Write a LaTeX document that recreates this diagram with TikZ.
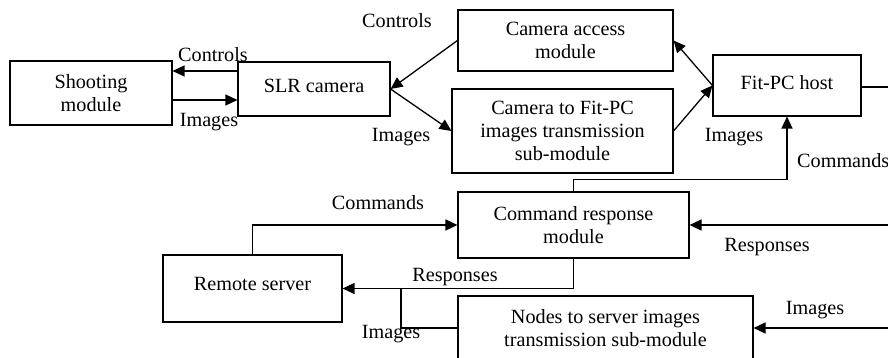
\documentclass[tikz,border=0pt]{standalone}
\usepackage{fontspec}
\setmainfont{Liberation Serif}
\usetikzlibrary{arrows.meta}
\begin{document}
\begin{tikzpicture}[x=1pt,y=-1pt,
  font=\fontsize{20.2}{23}\selectfont,
  box/.style={draw,line width=1.1pt,align=center,inner sep=0pt},
  conn/.style={line width=1.3pt},
  arr/.style={conn,-{Triangle[length=12pt,width=11pt]}},
  lbl/.style={inner sep=0pt,text height=13pt,text depth=4pt}]
\useasboundingbox (0,0) rectangle (888,358);
\clip (0,0) rectangle (888,358);
% boxes
\node[box,minimum width=162pt,minimum height=64pt] (shoot) at (91,93) {Shooting\\module};
\node[box,minimum width=152pt,minimum height=54pt] (slr) at (314,89) {\raisebox{6pt}{SLR camera}};
\node[box,minimum width=215pt,minimum height=61pt] (cam) at (565.5,40.5) {Camera access\\module};
\node[box,minimum width=221pt,minimum height=84pt] (c2f) at (562.5,131) {Camera to Fit-PC\\images transmission\\sub-module};
\node[box,minimum width=148pt,minimum height=61pt] (fit) at (787,85.5) {\raisebox{7pt}{Fit-PC host}};
\node[box,minimum width=231pt,minimum height=66pt] (cmd) at (573.5,225) {Command response\\module};
\node[box,minimum width=179pt,minimum height=67pt] (rs) at (252.5,288.5) {\raisebox{10pt}{Remote server}};
\node[box,minimum width=295pt,minimum height=64pt] (nts) at (605.5,328) {Nodes to server images\\transmission sub-module};
% free ends
\coordinate (fitR) at (888,87);
\coordinate (respR) at (888,225);
\coordinate (imgR) at (888,328);
\coordinate (join) at (401,288.5);
% connectors
\draw[arr] (slr.west |- {(0,71)}) -- (shoot.east |- {(0,71)});
\draw[arr] (shoot.east |- {(0,100)}) -- (slr.west |- {(0,100)});
\draw[arr] (cam.west) -- (slr.east);
\draw[arr] (slr.east) -- (c2f.west);
\draw[arr] (fit.west) -- (cam.east);
\draw[arr] (c2f.east) -- (fit.west);
\draw[conn] (fit.east |- fitR) -- (fitR);
\draw[arr] (cmd.north) -- ++(0,-12) -| (fit.south);
\draw[arr] (rs.north) |- (cmd.west);
\draw[arr] (cmd.south) |- (rs.east);
\draw[conn] (nts.west) -| (join);
\draw[arr] (respR) -- (cmd.east);
\draw[arr] (imgR) -- (nts.east);
% labels
\node[lbl] (l1) at (397,23) {Controls};
\node[lbl] (l2) at (213,57) {Controls};
\node[lbl] (l3) at (209,122) {Images};
\node[lbl] (l4) at (401,137) {Images};
\node[lbl] (l5) at (734,137) {Images};
\node[lbl,anchor=west] (l6) at (797,163) {Commands};
\node[lbl] (l7) at (378,205) {Commands};
\node[lbl] (l8) at (455,277) {Responses};
\node[lbl] (l9) at (391,334) {Images};
\node[lbl] (l10) at (767,247) {Responses};
\node[lbl] (l11) at (815,310) {Images};
\end{tikzpicture}
\end{document}
